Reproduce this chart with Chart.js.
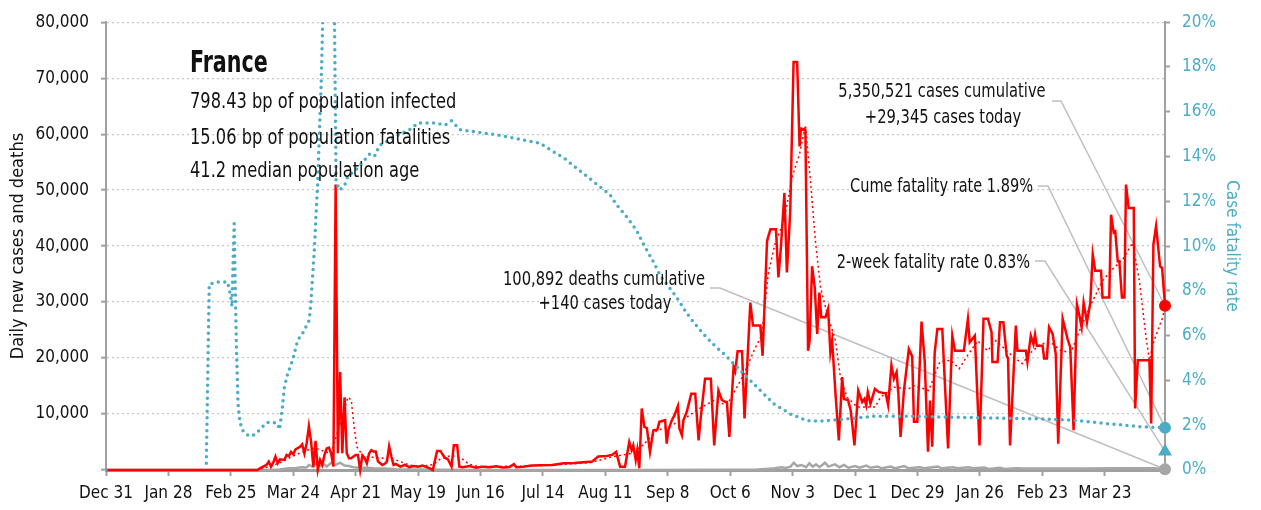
<!DOCTYPE html>
<html>
<head>
<meta charset="utf-8">
<script src="https://cdn.jsdelivr.net/npm/chart.js@4.4.1/dist/chart.umd.min.js"></script>
<style>
  html, body { margin: 0; padding: 0; background: #fff; }
</style>
</head>
<body>
<canvas id="chart" width="1261" height="510"></canvas>
<script>
// ---- data (day 0 = Dec 31, 2019) ----
const tickLabels = ['Dec 31', 'Jan 28', 'Feb 25', 'Mar 24', 'Apr 21', 'May 19', 'Jun 16', 'Jul 14',
  'Aug 11', 'Sep 8', 'Oct 6', 'Nov 3', 'Dec 1', 'Dec 29', 'Jan 26', 'Feb 23', 'Mar 23'];
const tickEvery = 28;
const lastDay = 475;

// daily new cases [day, cases]
const newCases = [
  [0, 0], [68, 0], [69, 300], [72, 900], [73, 1500], [74, 600], [75, 1300], [76, 2400], [77, 1200],
  [78, 1900], [80, 1800], [81, 2700], [82, 2500], [83, 3250], [84, 2800], [85, 3700], [87, 4150],
  [88, 4600], [89, 2950], [90, 4750], [91, 7800], [92, 5000], [93, 600], [94, 5200], [95, 0],
  [96, 1800], [97, 900], [98, 2700], [99, 3850], [100, 4000], [101, 2950], [102, 600], [103, 51000],
  [104, 3000], [105, 17500], [106, 3000], [107, 13000], [108, 3000], [109, 2100], [110, 2100],
  [111, 2400], [112, 2700], [113, 2700], [114, 0], [115, 2600], [116, 2100], [117, 1200], [118, 2950],
  [119, 3550], [120, 3300], [121, 3300], [122, 1500], [123, 1200], [124, 900], [125, 1100], [126, 1500],
  [127, 4250], [128, 2400], [129, 900], [130, 1100], [132, 600], [134, 900], [136, 500], [138, 700],
  [140, 600], [142, 800], [145, 350], [146.6, 0], [148.5, 3400], [150, 3400], [151, 2750], [152, 2200],
  [153.4, 1900], [155, 600], [156, 4400], [157.5, 4400], [158.5, 600], [160, 500], [163, 700], [166, 400],
  [169, 600], [172, 500], [175, 650], [178, 450], [181, 550], [183, 1050], [184, 500], [187, 600],
  [191, 800], [195, 850], [200, 900], [204, 1100], [205, 1200], [210, 1250], [214, 1400], [218, 1500],
  [220.8, 2400], [224.7, 2500], [227, 2700], [228.8, 3250], [230.6, 600], [232.8, 600], [234.7, 5000],
  [235.8, 3550], [236.5, 4400], [237.6, 1800], [238.3, 3550], [239.2, 300], [240.3, 11000], [241.5, 7700],
  [242.6, 7500], [244, 3250], [245.5, 7100], [247.3, 7200], [248.2, 8600], [250.8, 8900], [251.5, 4700],
  [252.3, 7200], [253.8, 8900], [255, 9800], [256.5, 11400], [257.2, 7400], [258.3, 6200], [259, 8900],
  [260.5, 10400], [262.5, 13600], [264.3, 13600], [265.8, 5300], [266.8, 9500], [268.7, 16300],
  [271.3, 16300], [272.8, 4400], [274.7, 14200], [276.2, 12550], [277, 12300], [278.5, 12100],
  [279.6, 5900], [281.5, 18400], [282.2, 17650], [283.3, 21200], [285.3, 21200], [286.4, 9200],
  [289, 29900], [290.2, 25800], [293.5, 25800], [294.5, 20400], [296.5, 40900], [298, 43000],
  [300.5, 43000], [301.6, 34400], [302.7, 39700], [304.3, 49500], [305.4, 35300], [306.9, 46200],
  [308.4, 72900], [310, 72900], [311.1, 57800], [311.7, 61000], [313.7, 60800], [314.9, 21300],
  [315.6, 23100], [316.7, 36400], [317.9, 32600], [319, 24300], [320, 31700], [320.8, 27300],
  [322.7, 27300], [323.9, 28800], [324.9, 21000], [325.7, 23100], [327.2, 13700], [328.7, 5300],
  [330.2, 16600], [331, 12700], [332.8, 12500], [334, 10700], [334.7, 8300], [335.7, 4400],
  [337.4, 14200], [339.2, 12150], [340.2, 12700], [341, 11550], [341.7, 13900], [342.9, 11850],
  [344.9, 14500], [346.7, 13900], [349.7, 13700], [350.8, 11600], [352.3, 18700], [353.4, 16300],
  [354.6, 17500], [355.4, 13600], [356.4, 5900], [357.9, 14200], [360.1, 21600], [361.6, 20300],
  [362.4, 8600], [363.9, 8600], [365.8, 26500], [367.2, 19600], [368.7, 3250], [369.6, 12400],
  [370.6, 4150], [371.7, 21000], [372.9, 25200], [375.1, 25200], [376.1, 16900], [377.7, 3850],
  [379.6, 24000], [380.8, 21300], [384.8, 21300], [386.6, 27000], [387.4, 22800], [389.7, 24000],
  [391.8, 4400], [393.6, 27000], [395.6, 27000], [397.2, 24600], [397.6, 19300], [399.9, 19300],
  [401, 26400], [402.5, 26400], [404, 20400], [404.6, 19900], [405.5, 4400], [408.1, 25800],
  [408.8, 21300], [412.6, 21300], [413.3, 19300], [414.8, 24000], [416, 22500], [416.7, 24200],
  [417.5, 22200], [420.1, 22200], [420.8, 19900], [422, 19900], [423, 25500], [424.6, 24300],
  [426, 20700], [427.1, 4700], [429.1, 27000], [431.3, 23400], [432.5, 21900], [434, 7100],
  [435.5, 29600], [436.5, 27800], [437.6, 25500], [438.5, 29900], [440, 26400], [441.5, 29900],
  [442.6, 38500], [443.7, 35600], [446.3, 35600], [447, 30800], [450, 30800], [450.8, 45600],
  [452, 42400], [452.7, 42600], [453.8, 37300], [454.5, 37300], [455.7, 30800], [456.8, 30800],
  [457.5, 51000], [458.7, 46800], [461, 46800], [461.6, 11000], [462.8, 19600], [468, 19600],
  [468.8, 8300], [469.8, 40300], [471, 43600], [472.8, 36400], [473.7, 36100], [475, 29345]
];

// 7-day average of new cases [day, cases]
const casesAvg = [
  [0, 0], [68, 0], [75, 800], [80, 1700], [85, 2700], [90, 3500], [94, 3900], [98, 3300], [101, 3000],
  [104, 7000], [106, 9500], [108.5, 13000], [110, 12500], [111.3, 7700], [112.5, 4150], [115.5, 2400],
  [125, 2100], [130, 1800], [136, 900], [141, 600], [147, 1000], [150, 2000], [155, 2600], [159, 2200],
  [163, 1000], [167, 600], [190, 700], [205, 1000], [217, 1300], [227.5, 2400], [235, 2900], [241, 4500],
  [247, 7000], [253, 7900], [259, 9000], [265, 10700], [272.5, 12400], [278.5, 11600], [283, 14800],
  [286, 17000], [290.5, 21200], [294.2, 24200], [297, 35000], [300, 40300], [304, 44400], [308, 52700],
  [311, 56300], [313.7, 61600], [316, 51500], [318.2, 40900], [320.5, 32600], [323.5, 27900],
  [327.2, 23100], [329.4, 16600], [332.4, 13000], [336.9, 11250], [345, 11250], [347.4, 13000],
  [353.4, 14800], [360, 14500], [362.4, 15100], [369, 14200], [374, 19300], [378.9, 19600],
  [382.7, 18100], [385.8, 20100], [391, 23100], [395.4, 21300], [399.1, 23100], [407.3, 20100],
  [411, 19000], [414.8, 21000], [419.3, 22500], [423.8, 22800], [428.3, 21300], [432.8, 21000],
  [437.3, 25500], [441.8, 29600], [447, 33800], [450.8, 35600], [456, 37600], [460.5, 40600],
  [463.5, 33800], [466.5, 23700], [468, 19600], [470, 23000], [474, 27300], [475, 29345]
];

// daily deaths [day, deaths]
const newDeaths = [
  [0, 0], [72, 0], [78, 100], [82, 300], [85, 350], [88, 500], [90, 450], [91, 900], [93, 500],
  [94, 1200], [96, 700], [98, 1000], [99, 600], [101, 1300], [103, 900], [105, 1300], [107, 800],
  [109, 700], [111, 500], [114, 400], [117, 400], [120, 300], [125, 250], [130, 150], [140, 80],
  [150, 50], [170, 20], [240, 20], [280, 50], [292, 100], [296, 200], [300, 300], [303, 500],
  [305, 350], [307, 600], [308.5, 1300], [310, 700], [312, 900], [314, 500], [315.5, 1200], [317, 600],
  [318.5, 1000], [320, 500], [322.5, 1300], [324, 600], [327, 1000], [329, 500], [331, 900], [333, 400],
  [336, 700], [338, 400], [341, 800], [343, 400], [346, 600], [348, 300], [352, 600], [354, 300],
  [358, 700], [360, 300], [365, 500], [367, 300], [373, 600], [375, 300], [380, 500], [382, 300],
  [387, 500], [389, 300], [394, 450], [396, 200], [401, 400], [403, 200], [408, 300], [412, 250],
  [420, 250], [430, 250], [440, 250], [450, 300], [460, 300], [470, 300], [475, 140]
];

// cumulative case fatality rate [day, %]  (null = no cases yet)
const fatalityRate = [
  [0, 0], [2, 0], [2.5, null], [45, 0.3], [46.3, 8.3], [50, 8.4], [54.5, 8.4], [55.3, 8.07], [56, 7.7],
  [56.5, 7.3], [57, 9.3], [57.5, 11.0], [58, 8.0], [58.5, 5.5], [59.2, 3.0], [60, 2.2], [61, 1.8],
  [62.8, 1.6], [64.6, 1.5], [67, 1.6], [69.5, 1.85], [71.8, 2.1], [74.2, 2.15], [77, 2.07], [77.8, 1.8],
  [79, 2.67], [80, 3.7], [81.5, 4.3], [83.7, 4.9], [86, 5.8], [88.2, 6.1], [91.2, 6.7], [92, 7.6],
  [92.7, 8.7], [93.5, 9.9], [94.2, 11.4], [95, 12.9], [95.7, 15], [96.5, 17.2], [97.2, 20], [99, 23],
  [101.5, 24], [102.5, 20], [103.2, 12.9], [104.7, 12.5], [107, 12.7], [108.4, 13.1], [113, 13.5],
  [118.2, 14.1], [120.4, 14.0], [122.7, 14.5], [126.4, 14.7], [131.7, 15.0], [136.2, 15.2], [140, 15.5],
  [148, 15.5], [152, 15.4], [155, 15.6], [158.7, 15.2], [176.6, 14.95], [194.6, 14.6], [205.8, 13.9],
  [218.4, 12.9], [226, 12.3], [229, 11.85], [233.6, 11.3], [238, 10.7], [241, 10.1], [245.5, 9.3],
  [248.5, 8.7], [253, 8.1], [256, 7.7], [260.5, 7.0], [263.5, 6.6], [268, 6.07], [272.5, 5.6],
  [277, 5.2], [283, 4.6], [289, 4.0], [293.5, 3.55], [299.5, 2.96], [307, 2.5], [314.5, 2.2],
  [320.4, 2.18], [329.4, 2.25], [344.4, 2.4], [359.4, 2.4], [389.3, 2.34], [419.3, 2.28], [434.3, 2.22],
  [449.3, 2.07], [464.3, 1.93], [475, 1.89]
];
const twoWeekRate = 0.83;

const titleText = ['France', '798.43 bp of population infected', '15.06 bp of population fatalities',
  '41.2 median population age'];

// ---- styling ----
const FONT = "'Liberation Sans Narrow', 'DejaVu Sans Condensed', 'Arial Narrow', sans-serif";
const RED = '#ff0000';
const TEAL = '#4bacc6';
const GREY = '#a6a6a6';
const AXIS = '#a0a0a0';
const LEADER = '#bfbfbf';
const INK = '#111';

const toPoints = arr => arr.map(([x, y]) => ({x: x, y: y}));
const endOnly = (arr, r) => c => (c.dataIndex === arr.length - 1 ? r : 0);
const edgeClip = {left: 0, top: 0, right: 10, bottom: 10};

// narrow text: no condensed face installed, so squeeze horizontally
function narrowText(ctx, text, x, y, align, sx) {
  ctx.save();
  ctx.translate(x, y);
  ctx.scale(sx, 1);
  ctx.textAlign = align;
  ctx.fillText(text, 0, 0);
  ctx.restore();
}

// text and leader lines
var notesPlugin = {
  id: 'notes',
  beforeDatasetsDraw: function(chart) {
    var ctx = chart.ctx, xs = chart.scales.x, y = chart.scales.y, y2 = chart.scales.y2;
    var ex = xs.getPixelForValue(lastDay);
    var leaders = [
      [[1052, 101], [1061, 101], [ex, y.getPixelForValue(newCases[newCases.length - 1][1])]],
      [[1038, 186], [1048, 186], [ex, y2.getPixelForValue(fatalityRate[fatalityRate.length - 1][1])]],
      [[1035, 261], [1045, 261], [ex, y2.getPixelForValue(twoWeekRate)]],
      [[710, 288], [720, 288], [ex, y.getPixelForValue(newDeaths[newDeaths.length - 1][1])]]
    ];
    ctx.save();
    ctx.strokeStyle = LEADER;
    ctx.lineWidth = 1.5;
    leaders.forEach(function(l) {
      ctx.beginPath();
      ctx.moveTo(l[0][0], l[0][1]);
      ctx.lineTo(l[1][0], l[1][1]);
      ctx.lineTo(l[2][0], l[2][1]);
      ctx.stroke();
    });
    ctx.restore();
  },
  afterDatasetsDraw: function(chart) {
    var ctx = chart.ctx;
    ctx.save();
    ctx.fillStyle = INK;
    ctx.textBaseline = 'middle';
    ctx.font = 'bold 31px ' + FONT;
    narrowText(ctx, titleText[0], 190, 64, 'left', 0.74);
    ctx.font = '21px ' + FONT;
    narrowText(ctx, titleText[1], 190, 103, 'left', 0.86);
    narrowText(ctx, titleText[2], 190, 139, 'left', 0.86);
    narrowText(ctx, titleText[3], 190, 172, 'left', 0.86);

    var last = newCases[newCases.length - 1][1];
    var dLast = newDeaths[newDeaths.length - 1][1];
    var cfr = fatalityRate[fatalityRate.length - 1][1];
    ctx.font = '19px ' + FONT;
    narrowText(ctx, '5,350,521 cases cumulative', 942, 92, 'center', 0.86);
    narrowText(ctx, '+' + last.toLocaleString('en-US') + ' cases today', 943, 118, 'center', 0.86);
    narrowText(ctx, '100,892 deaths cumulative', 604, 280, 'center', 0.86);
    narrowText(ctx, '+' + dLast + ' cases today', 605, 304, 'center', 0.86);
    narrowText(ctx, 'Cume fatality rate ' + cfr.toFixed(2) + '%', 1033, 187, 'right', 0.85);
    narrowText(ctx, '2-week fatality rate ' + twoWeekRate.toFixed(2) + '%', 1030, 263, 'right', 0.85);
    ctx.restore();
  }
};

new Chart(document.getElementById('chart'), {
  type: 'line',
  data: {
    datasets: [
      {
        data: toPoints(fatalityRate), yAxisID: 'y2',
        borderColor: TEAL, borderWidth: 3.5, borderDash: [0, 6.5], borderCapStyle: 'round',
        pointRadius: endOnly(fatalityRate, 6), pointBackgroundColor: TEAL, pointBorderWidth: 0,
        spanGaps: false, clip: edgeClip
      },
      {
        data: [{x: lastDay, y: twoWeekRate}], yAxisID: 'y2',
        pointStyle: 'triangle', pointRadius: 8, pointBackgroundColor: TEAL, pointBorderWidth: 0,
        clip: edgeClip
      },
      {
        data: toPoints(newCases), yAxisID: 'y',
        borderColor: RED, borderWidth: 2.5,
        pointRadius: endOnly(newCases, 6), pointBackgroundColor: RED, pointBorderWidth: 0,
        clip: edgeClip
      },
      {
        data: toPoints(casesAvg), yAxisID: 'y',
        borderColor: RED, borderWidth: 1.5, borderDash: [2, 3],
        pointRadius: 0, clip: edgeClip
      },
      {
        data: toPoints(newDeaths), yAxisID: 'y',
        borderColor: GREY, borderWidth: 2.5,
        pointRadius: endOnly(newDeaths, 6), pointBackgroundColor: GREY, pointBorderWidth: 0,
        clip: edgeClip
      }
    ]
  },
  options: {
    responsive: false,
    animation: false,
    events: [],
    layout: {padding: {top: 20, right: 0, bottom: 0, left: 0}},
    elements: {line: {tension: 0}},
    plugins: {legend: {display: false}, tooltip: {enabled: false}},
    scales: {
      x: {
        type: 'linear', min: 0, max: lastDay,
        afterFit: function(s) { s.height = 40; },
        afterBuildTicks: function(s) {
          s.ticks = tickLabels.map(function(_, i) { return {value: i * tickEvery}; });
        },
        ticks: {
          color: INK, font: {family: FONT, size: 17}, padding: 7, maxRotation: 0, autoSkip: false,
          callback: function(v) { return tickLabels[Math.round(v / tickEvery)]; }
        },
        grid: {drawOnChartArea: false, drawTicks: true, tickLength: 6, tickColor: AXIS, tickWidth: 2},
        border: {display: true, color: AXIS, width: 3}
      },
      y: {
        position: 'left', min: 0, max: 80000,
        afterFit: function(s) { s.width = 106; },
        ticks: {
          stepSize: 10000, color: INK, font: {family: FONT, size: 17}, padding: 12,
          callback: function(v) { return v === 0 ? '' : v.toLocaleString('en-US'); }
        },
        grid: {color: '#c8c8c8', lineWidth: 1.3, tickLength: 5, tickColor: AXIS, tickWidth: 2,
               tickBorderDash: [20, 0]},
        border: {display: true, color: AXIS, width: 2, dash: [2, 3]},
        title: {display: true, text: 'Daily new cases and deaths', color: INK,
                font: {family: FONT, size: 18}, padding: {top: 8, bottom: 0}}
      },
      y2: {
        position: 'right', min: 0, max: 20,
        afterFit: function(s) { s.width = 96; },
        ticks: {
          stepSize: 2, color: TEAL, font: {family: FONT, size: 17}, padding: 12,
          callback: function(v) { return v + '%'; }
        },
        grid: {drawOnChartArea: false, tickLength: 5, tickColor: AXIS, tickWidth: 2},
        border: {display: true, color: AXIS, width: 2},
        title: {display: true, text: 'Case fatality rate', color: TEAL,
                font: {family: FONT, size: 17}, padding: {top: 19, bottom: 0}}
      }
    }
  },
  plugins: [notesPlugin]
});
</script>
</body>
</html>
